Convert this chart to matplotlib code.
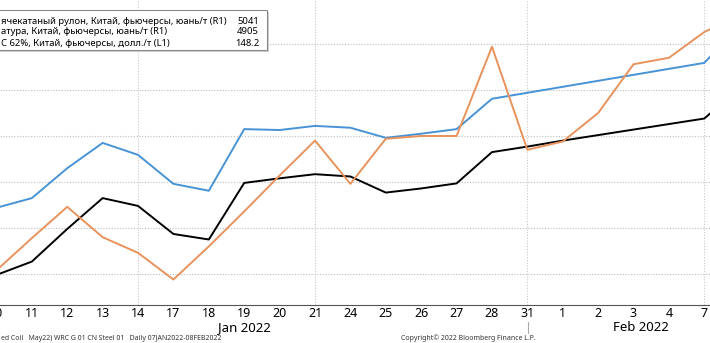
import matplotlib
matplotlib.use("Agg")
import matplotlib.pyplot as plt
from matplotlib.patches import Rectangle
from matplotlib.lines import Line2D

plt.rcParams['font.family'] = ['Noto Sans', 'DejaVu Sans']

# торговые дни 10 янв - 8 фев 2022
days = ['10', '11', '12', '13', '14', '17', '18', '19', '20', '21', '24',
        '25', '26', '27', '28', '31', '1', '2', '3', '4', '7', '8']

# горячекатаный рулон, юань/т (R1)
hrc = [4644, 4665, 4730, 4785, 4759, 4696, 4681, 4815, 4813, 4822, 4818,
       4796, 4805, 4815, 4881, 4894, 4907, 4920, 4933, 4946, 4959, 5041]
# арматура, юань/т (R1)
rebar = [4498, 4527, 4598, 4665, 4648, 4587, 4575, 4698, 4708, 4717, 4712,
         4677, 4686, 4697, 4765, 4777, 4790, 4802, 4814, 4826, 4838, 4905]
# железная руда 62%, долл./т (L1)
iron_ore = [120.4, 123.9, 127.3, 124.0, 122.3, 119.4, 123.0, 126.8, 130.7, 134.5, 129.8,
            134.7, 135.0, 135.0, 144.7, 133.5, 134.4, 137.5, 142.8, 143.5, 146.3, 148.2]

legend_rows = [
    ('ячекатаный рулон, Китай, фьючерсы, юань/т (R1)', '5041'),
    ('атура, Китай, фьючерсы, юань/т (R1)', '4905'),
    ('C 62%, Китай, фьючерсы, долл./т (L1)', '148.2'),
]

W, H = 710, 343
fig = plt.figure(figsize=(W / 100, H / 100), dpi=100)
ax = fig.add_axes([0, 38 / H, 1, 305 / H])
ax2 = ax.twinx()

x = list(range(len(days)))

ax2.plot(x, hrc, color='#4893d6', lw=1.4)
ax2.plot(x, rebar, color='black', lw=1.4)
ax.plot(x, iron_ore, color='#e8925c', lw=1.4)

ax.set_zorder(ax2.get_zorder() + 1)
ax.patch.set_visible(False)
ax2.patch.set_facecolor('white')

# сетка
ax2.set_yticks([4500, 4600, 4700, 4800, 4900, 5000])
ax2.yaxis.grid(True, color='#bdbdbd', ls=(0, (1, 1.5)), lw=0.8)
for i in [4, 9, 15, 20]:
    ax2.axvline(i, color='#c8c8c8', ls=(0, (1, 1.5)), lw=0.8, zorder=0)

ax.set_yticks([])
ax2.tick_params(axis='y', length=0, labelright=False)

ax.set_xticks(x)
ax.set_xticklabels(days, fontsize=9)
ax.tick_params(axis='x', length=0, pad=1.5)

for a in (ax, ax2):
    for s in ['top', 'left', 'right']:
        a.spines[s].set_visible(False)
ax.spines['bottom'].set_color('#555555')
ax2.spines['bottom'].set_visible(False)

ax.set_xlim(0.10, 20.16)
ax2.set_xlim(0.10, 20.16)
ax2.set_ylim(4432.6, 5095.7)
ax.set_ylim(116.63, 149.78)

xt = ax.get_xaxis_transform()
# первая подпись частично за краем, как в оригинале
ax.text(0, -0.006, days[0], transform=xt, ha='center', va='top', fontsize=9,
        clip_on=False)

# подписи месяцев
ax.text(7.0, -0.073, 'Jan 2022', transform=xt, ha='center', va='center', fontsize=9.5)
ax.text(18.2, -0.073, 'Feb 2022', transform=xt, ha='center', va='center', fontsize=9.5)
fig.lines.append(Line2D([528 / W, 528 / W], [1 - 322 / H, 1 - 333 / H],
                        transform=fig.transFigure, color='#aaaaaa', lw=0.8))

# легенда
box = Rectangle((-10 / W, 1 - 50 / H), 277 / W, 40 / H, transform=fig.transFigure,
                facecolor='white', edgecolor='#8a8a8a', lw=0.8, zorder=10)
shadow = Rectangle((-8 / W, 1 - 52 / H), 277 / W, 40 / H, transform=fig.transFigure,
                   facecolor='#d0d0d0', edgecolor='none', zorder=9)
fig.patches.extend([shadow, box])
for k, (name, val) in enumerate(legend_rows):
    yy = 1 - (21 + 11 * k) / H
    fig.text(1 / W, yy, name, ha='left', va='center', fontsize=6.8, zorder=11)
    fig.text(259 / W, yy, val, ha='right', va='center', fontsize=6.8, zorder=11)

# нижняя строка
fig.text(1 / W, 5 / H, 'ed Coil   May22) WRC G 01 CN Steel 01   Daily 07JAN2022-08FEB2022',
         ha='left', va='center', fontsize=5.0, color='#333333')
fig.text(468 / W, 5 / H, 'Copyright\u00a9 2022 Bloomberg Finance L.P.',
         ha='center', va='center', fontsize=5.0, color='#333333')

fig.savefig('out.png', dpi=100)
